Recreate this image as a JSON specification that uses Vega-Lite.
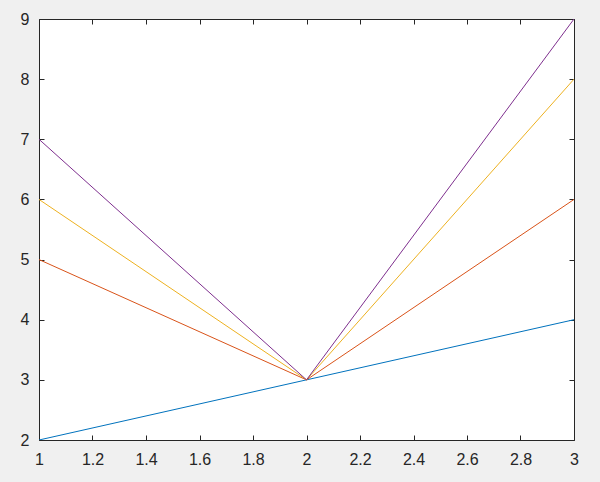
{
  "$schema": "https://vega.github.io/schema/vega-lite/v6.json",
  "width": 535,
  "height": 421,
  "autosize": {"type": "none"},
  "padding": {"left": 39, "top": 19, "right": 26, "bottom": 42},
  "background": "#f0f0f0",
  "config": {
    "view": {"stroke": "#262626", "strokeWidth": 1, "fill": "white"},
    "axis": {
      "labelFont": "Liberation Sans",
      "labelFontSize": 16,
      "labelColor": "#262626",
      "domain": false,
      "grid": false,
      "tickColor": "#262626",
      "tickSize": -5,
      "title": null
    }
  },
  "data": {
    "values": [
      {"x": 1, "y": 2, "s": "a"}, {"x": 2, "y": 3, "s": "a"}, {"x": 3, "y": 4, "s": "a"},
      {"x": 1, "y": 5, "s": "b"}, {"x": 2, "y": 3, "s": "b"}, {"x": 3, "y": 6, "s": "b"},
      {"x": 1, "y": 6, "s": "c"}, {"x": 2, "y": 3, "s": "c"}, {"x": 3, "y": 8, "s": "c"},
      {"x": 1, "y": 7, "s": "d"}, {"x": 2, "y": 3, "s": "d"}, {"x": 3, "y": 9, "s": "d"}
    ]
  },
  "layer": [
    {
      "mark": {"type": "line", "strokeWidth": 1, "clip": true},
      "encoding": {
        "x": {"field": "x", "type": "quantitative", "scale": {"domain": [1, 3], "nice": false},
              "axis": {"values": [1, 1.2, 1.4, 1.6, 1.8, 2, 2.2, 2.4, 2.6, 2.8, 3], "format": "~g", "labelPadding": 16, "labelFlush": false, "labelOverlap": false}},
        "y": {"field": "y", "type": "quantitative", "scale": {"domain": [2, 9], "nice": false, "zero": false},
              "axis": {"values": [2, 3, 4, 5, 6, 7, 8, 9], "labelPadding": 15, "labelFlush": false, "labelOverlap": false}},
        "color": {"field": "s", "type": "nominal", "legend": null,
                  "scale": {"range": ["#0072BD", "#D95319", "#EDB120", "#7E2F8E"]}}
      }
    },
    {
      "mark": {"type": "line", "opacity": 0},
      "encoding": {
        "x": {"field": "x", "type": "quantitative",
              "axis": {"orient": "top", "values": [1, 1.2, 1.4, 1.6, 1.8, 2, 2.2, 2.4, 2.6, 2.8, 3], "labels": false}},
        "y": {"field": "y", "type": "quantitative",
              "axis": {"orient": "right", "values": [2, 3, 4, 5, 6, 7, 8, 9], "labels": false}},
        "detail": {"field": "s"}
      }
    }
  ],
  "resolve": {"axis": {"x": "independent", "y": "independent"}}
}
